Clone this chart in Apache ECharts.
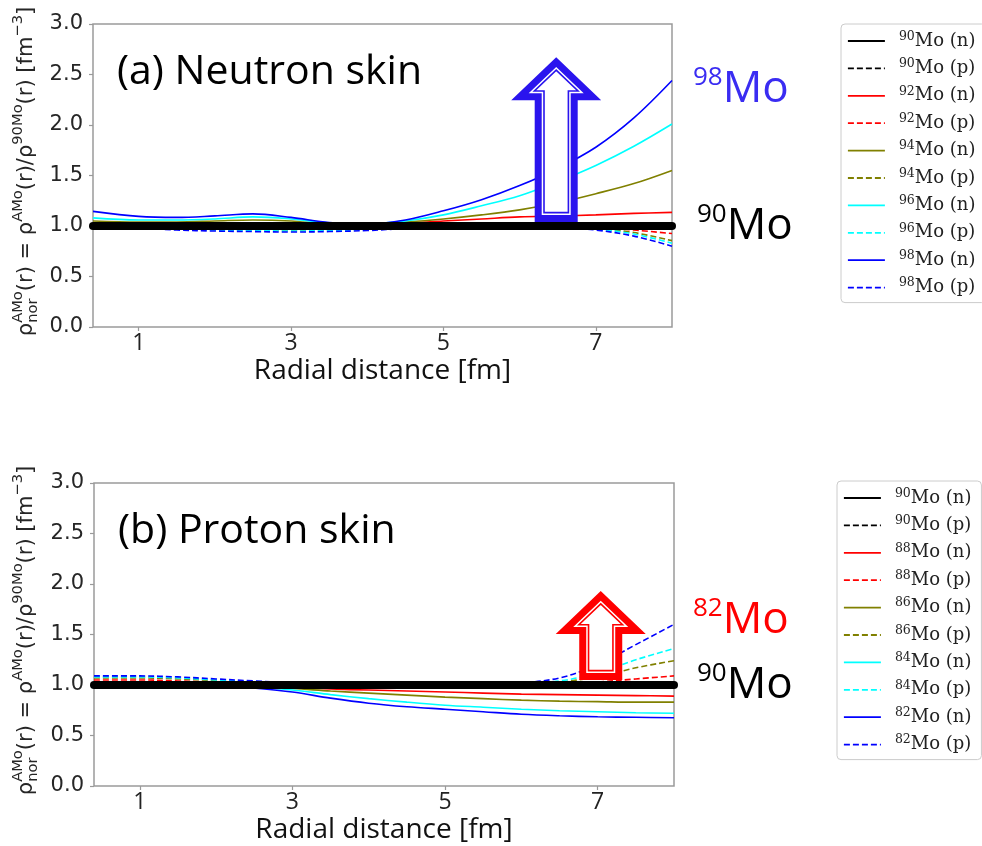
<!DOCTYPE html>
<html><head><meta charset="utf-8">
<script src="https://cdn.jsdelivr.net/npm/echarts@6/dist/echarts.min.js"></script>
<style>html,body{margin:0;padding:0;background:#fff}#c{width:982px;height:846px}</style>
</head><body><div id="c"></div>
<script>
// ---------- data ----------
const radius = [0.4, 1.0, 1.5, 2.0, 2.5, 3.0, 3.5, 4.0, 4.5, 5.0, 5.5, 6.0, 6.5, 7.0, 7.5, 8.0];
const xTicks = [1, 3, 5, 7];

// (a) neutron skin
const a90n = [1, 1, 1, 1, 1, 1, 1, 1, 1, 1, 1, 1, 1, 1, 1, 1];
const a90p = [1, 1, 1, 1, 1, 1, 1, 1, 1, 1, 1, 1, 1, 1, 1, 1];
const a92n = [1.02, 1.02, 1.02, 1.02, 1.03, 1.02, 1.01, 1.02, 1.03, 1.05, 1.07, 1.09, 1.10, 1.11, 1.125, 1.135];
const a92p = [1.00, 0.995, 0.99, 0.985, 0.98, 0.98, 0.98, 0.985, 0.99, 1.00, 1.00, 1.00, 0.995, 0.985, 0.96, 0.925];
const a94n = [1.05, 1.04, 1.04, 1.05, 1.06, 1.05, 1.02, 1.02, 1.04, 1.07, 1.11, 1.16, 1.23, 1.32, 1.42, 1.55];
const a94p = [0.995, 0.99, 0.98, 0.97, 0.965, 0.96, 0.965, 0.975, 0.985, 0.995, 1.00, 1.00, 0.995, 0.975, 0.935, 0.855];
const a96n = [1.08, 1.06, 1.06, 1.07, 1.09, 1.07, 1.03, 1.02, 1.05, 1.11, 1.20, 1.30, 1.44, 1.60, 1.79, 2.01];
const a96p = [0.99, 0.985, 0.97, 0.96, 0.955, 0.95, 0.955, 0.965, 0.98, 0.99, 1.00, 1.00, 0.99, 0.97, 0.92, 0.83];
const a98n = [1.145, 1.095, 1.085, 1.10, 1.12, 1.085, 1.035, 1.02, 1.06, 1.15, 1.26, 1.40, 1.57, 1.78, 2.07, 2.44];
const a98p = [0.99, 0.98, 0.96, 0.95, 0.945, 0.94, 0.945, 0.955, 0.975, 0.99, 1.00, 1.00, 0.99, 0.96, 0.90, 0.80];

// (b) proton skin
const b90n = [1, 1, 1, 1, 1, 1, 1, 1, 1, 1, 1, 1, 1, 1, 1, 1];
const b90p = [1, 1, 1, 1, 1, 1, 1, 1, 1, 1, 1, 1, 1, 1, 1, 1];
const b88n = [1.005, 1.0, 1.0, 0.995, 0.985, 0.975, 0.96, 0.95, 0.94, 0.93, 0.92, 0.91, 0.905, 0.90, 0.895, 0.89];
const b88p = [1.05, 1.05, 1.04, 1.03, 1.02, 1.015, 1.01, 1.01, 1.01, 1.01, 1.01, 1.01, 1.015, 1.03, 1.06, 1.09];
const b86n = [1.01, 1.01, 1.0, 0.995, 0.98, 0.965, 0.94, 0.92, 0.90, 0.88, 0.865, 0.85, 0.84, 0.835, 0.83, 0.83];
const b86p = [1.07, 1.07, 1.06, 1.045, 1.03, 1.02, 1.015, 1.015, 1.015, 1.015, 1.015, 1.015, 1.03, 1.08, 1.17, 1.24];
const b84n = [1.02, 1.02, 1.01, 1.0, 0.98, 0.95, 0.905, 0.865, 0.83, 0.80, 0.78, 0.76, 0.745, 0.735, 0.725, 0.72];
const b84p = [1.08, 1.08, 1.07, 1.05, 1.035, 1.02, 1.02, 1.02, 1.02, 1.02, 1.02, 1.02, 1.04, 1.12, 1.25, 1.36];
const b82n = [1.02, 1.02, 1.01, 1.0, 0.97, 0.93, 0.87, 0.82, 0.785, 0.76, 0.735, 0.71, 0.695, 0.685, 0.68, 0.675];
const b82p = [1.09, 1.09, 1.08, 1.06, 1.04, 1.025, 1.02, 1.02, 1.02, 1.02, 1.02, 1.025, 1.07, 1.20, 1.40, 1.60];

const topNames = ['90Mo (n)', '90Mo (p)', '92Mo (n)', '92Mo (p)', '94Mo (n)', '94Mo (p)', '96Mo (n)', '96Mo (p)', '98Mo (n)', '98Mo (p)'];
const botNames = ['90Mo (n)', '90Mo (p)', '88Mo (n)', '88Mo (p)', '86Mo (n)', '86Mo (p)', '84Mo (n)', '84Mo (p)', '82Mo (n)', '82Mo (p)'];
const topValues = [a90n, a90p, a92n, a92p, a94n, a94p, a96n, a96p, a98n, a98p];
const botValues = [b90n, b90p, b88n, b88p, b86n, b86p, b84n, b84p, b82n, b82p];
const lineColors = ['#000000', '#000000', '#ff0000', '#ff0000', '#808000', '#808000', '#00ffff', '#00ffff', '#0000ff', '#0000ff'];

const refLine = [[0.4, 1.0], [8.0, 1.0]];
// arrows: [x, base value, tip value]
const arrowTop = [6.48, 1.04, 2.67];
const arrowBot = [7.04, 1.05, 1.93];
// annotation anchors (value y at right edge)
const labelTop98 = 2.35, labelTop90 = 1.0, labelBot82 = 1.64, labelBot90 = 1.0;

// ---------- chart ----------
const chart = echarts.init(document.getElementById('c'), null, {renderer: 'canvas'});

function mkSeries(names, values, gi) {
  return names.map((n, i) => ({
    name: n, type: 'line', xAxisIndex: gi, yAxisIndex: gi,
    data: radius.map((r, k) => [r, values[i][k]]),
    smooth: 0.35, symbol: 'none', silent: true,
    lineStyle: {color: lineColors[i], width: 1.6, type: (i % 2 === 1) ? [6, 3] : 'solid'},
    itemStyle: {color: lineColors[i]},
    z: 2
  }));
}
function thick(gi) {
  return {name: 'ref', type: 'line', xAxisIndex: gi, yAxisIndex: gi, data: refLine, symbol: 'none',
    clip: false, silent: true, lineStyle: {color: '#000', width: 8, cap: 'round'}, z: 5};
}

const gridStyle = {show: true, borderColor: '#9a9a9a', borderWidth: 1.5, backgroundColor: 'transparent'};
function xAx(gi) {
  return {gridIndex: gi, type: 'value', min: 0.4, max: 8.0,
    axisLine: {show: false}, splitLine: {show: false},
    axisTick: {show: true, customValues: xTicks, length: 4, lineStyle: {color: '#9a9a9a', width: 1.2}},
    axisLabel: {customValues: xTicks, fontFamily: 'Open Sans', fontSize: 23, color: '#222', margin: 5},
    name: 'Radial distance [fm]', nameLocation: 'middle', nameGap: 30,
    nameTextStyle: {fontFamily: 'Open Sans', fontSize: 28, color: '#111'}};
}
function yAx(gi) {
  return {gridIndex: gi, type: 'value', min: 0, max: 3, interval: 0.5,
    axisLine: {show: false}, splitLine: {show: false},
    axisTick: {show: true, length: 4, lineStyle: {color: '#9a9a9a', width: 1.2}},
    axisLabel: {fontFamily: 'DejaVu Sans', fontSize: 21, color: '#262626', margin: 10, formatter: v => v.toFixed(1)}};
}
function legendCfg(names, left, top) {
  return {data: names, orient: 'vertical', left: left, top: top, itemWidth: 37, itemHeight: 14, itemGap: 7.4,
    padding: [6, 10, 6, 6], borderColor: '#cccccc', borderWidth: 1, borderRadius: 4, backgroundColor: '#fff',
    selectedMode: false,
    itemStyle: {opacity: 0},
    lineStyle: {width: 1.8},
    formatter: n => { const m = n.match(/^(\d+)(.*)$/); return '{s|' + m[1] + '}{t|' + m[2] + '}'; },
    textStyle: {fontFamily: 'DejaVu Serif', fontSize: 18, color: '#222', padding: [0, 0, 0, 9],
      rich: {s: {fontFamily: 'DejaVu Serif', fontSize: 12.5, color: '#222', verticalAlign: 'top', lineHeight: 9},
             t: {fontFamily: 'DejaVu Serif', fontSize: 18, color: '#222', lineHeight: 22}}}};
}

const option = {
  animation: false,
  backgroundColor: '#fff',
  grid: [Object.assign({left: 93, top: 24, width: 579, height: 303}, gridStyle),
         Object.assign({left: 94, top: 483, width: 580, height: 303}, gridStyle)],
  xAxis: [xAx(0), xAx(1)],
  yAxis: [yAx(0), yAx(1)],
  legend: [legendCfg(topNames, 841, 24), legendCfg(botNames, 837, 481)],
  series: [].concat(mkSeries(topNames, topValues, 0), [thick(0)], mkSeries(botNames, botValues, 1), [thick(1)])
};
chart.setOption(option);

// ---------- annotations ----------
const mctx = document.createElement('canvas').getContext('2d');
function tw(t, size, fam) { mctx.font = size + 'px "' + fam + '"'; return mctx.measureText(t).width; }

function richEls(segs, F, fam, color) {
  let x = 0; const els = [];
  segs.forEach(s => {
    const parts = s.stack ? s.stack : [s];
    let w = 0;
    parts.forEach(p => {
      const size = F * (p.k || 1);
      els.push({type: 'text', x: x, y: (p.dy || 0) * F,
        style: {text: p.t, fontSize: size, fontFamily: fam, fill: color, align: 'left', verticalAlign: 'middle'}});
      w = Math.max(w, tw(p.t, size, fam));
    });
    x += w;
  });
  return {els: els, width: x};
}

function insetPoly(pts, d) {
  let A = 0; const n = pts.length;
  for (let i = 0; i < n; i++) { const a = pts[i], b = pts[(i + 1) % n]; A += a[0] * b[1] - b[0] * a[1]; }
  const sg = A > 0 ? 1 : -1;
  const lines = [];
  for (let i = 0; i < n; i++) {
    const a = pts[i], b = pts[(i + 1) % n];
    let dx = b[0] - a[0], dy = b[1] - a[1]; const L = Math.hypot(dx, dy); dx /= L; dy /= L;
    const nx = -dy * sg, ny = dx * sg;
    lines.push({p: [a[0] + nx * d, a[1] + ny * d], v: [dx, dy]});
  }
  const out = [];
  for (let i = 0; i < n; i++) {
    const l1 = lines[(i - 1 + n) % n], l2 = lines[i];
    const den = l1.v[0] * l2.v[1] - l1.v[1] * l2.v[0];
    if (Math.abs(den) < 1e-9) { out.push(l2.p); continue; }
    const t = ((l2.p[0] - l1.p[0]) * l2.v[1] - (l2.p[1] - l1.p[1]) * l2.v[0]) / den;
    out.push([l1.p[0] + l1.v[0] * t, l1.p[1] + l1.v[1] * t]);
  }
  return out;
}
function arrowEls(gi, a, color) {
  const base = chart.convertToPixel({gridIndex: gi}, [a[0], a[1]]);
  const tip = chart.convertToPixel({gridIndex: gi}, [a[0], a[2]]);
  const bx = base[0], by = base[1], ty = tip[1];
  const hh = 43, hw = 45, sw = 21.5;
  const outer = [[bx, ty], [bx + hw, ty + hh], [bx + sw, ty + hh], [bx + sw, by], [bx - sw, by], [bx - sw, ty + hh], [bx - hw, ty + hh]];
  return [
    {type: 'polygon', shape: {points: outer}, style: {fill: color}, z: 100},
    {type: 'polygon', shape: {points: insetPoly(outer, 7)}, style: {fill: '#fff'}, z: 101},
    {type: 'polygon', shape: {points: insetPoly(outer, 9.3)}, style: {fill: 'none', stroke: color, lineWidth: 1.6}, z: 102}
  ];
}
function isoLabel(gi, val, num, dx, color) {
  const p = chart.convertToPixel({gridIndex: gi}, [8.0, val]);
  const r = richEls([{t: num, k: 26 / 44, dy: -0.27}, {t: 'Mo'}], 44, 'Open Sans', color);
  return {type: 'group', x: p[0] + dx, y: p[1], children: r.els, z: 110};
}
function yLabel(gi) {
  const p0 = chart.convertToPixel({gridIndex: gi}, [0.4, 1.5]);
  const segs = [
    {t: 'ρ'},
    {stack: [{t: 'AMo', k: 0.7, dy: -0.42}, {t: 'nor', k: 0.7, dy: 0.3}]},
    {t: '(r) = ρ'},
    {t: 'AMo', k: 0.7, dy: -0.42},
    {t: '(r)/ρ'},
    {t: '90Mo', k: 0.7, dy: -0.42},
    {t: '(r) [fm'},
    {t: '−3', k: 0.7, dy: -0.42},
    {t: ']'}
  ];
  const r = richEls(segs, 21, 'DejaVu Sans', '#262626');
  r.els.forEach(e => { e.x -= r.width / 2; });
  return {type: 'group', x: 27, y: p0[1] - 4, rotation: Math.PI / 2, children: r.els, z: 110};
}
function panelTitle(gi, txt) {
  const p = chart.convertToPixel({gridIndex: gi}, [0.4, 3.0]);
  return {type: 'text', x: p[0] + 24, y: p[1] + 48, z: 110,
    style: {text: txt, fontSize: 41, fontFamily: 'Open Sans', fill: '#000', align: 'left', verticalAlign: 'middle'}};
}

const graphics = [].concat(
  arrowEls(0, arrowTop, '#2a14ee'),
  arrowEls(1, arrowBot, '#ff0000'),
  [isoLabel(0, labelTop98, '98', 21, '#3a2cf2'),
   isoLabel(0, labelTop90, '90', 25, '#000'),
   isoLabel(1, labelBot82, '82', 19, '#ff0000'),
   isoLabel(1, labelBot90, '90', 23, '#000'),
   yLabel(0), yLabel(1),
   panelTitle(0, '(a) Neutron skin'), panelTitle(1, '(b) Proton skin')]
);
chart.setOption({graphic: graphics});
</script></body></html>
